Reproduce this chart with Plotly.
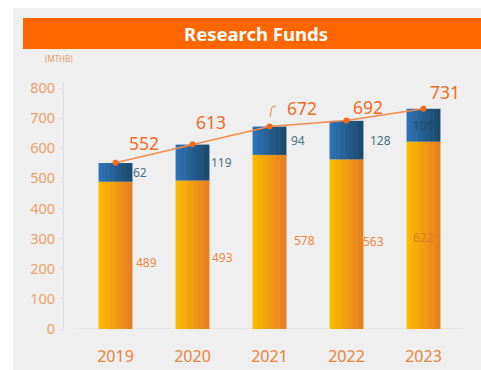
import plotly.graph_objects as go

# Research funds (million THB) by fiscal year
years = ["2019", "2020", "2021", "2022", "2023"]
base_funds = [489, 493, 578, 563, 622]
extra_funds = [62, 119, 94, 128, 109]
totals = [552, 613, 672, 692, 731]
y_ticks = [0, 100, 200, 300, 400, 500, 600, 700, 800]

W, H = 481, 370
ML, MR, MT, MB = 64, 19, 82, 41
PW, PH = W - ML - MR, H - MT - MB

def px_x(p):
    return (p - ML) / PW

def px_y(p):
    return 1 - (p - MT) / PH

def lerp(c1, c2, t):
    a = [int(c1[i:i + 2], 16) for i in (1, 3, 5)]
    b = [int(c2[i:i + 2], 16) for i in (1, 3, 5)]
    return "rgb(%d,%d,%d)" % tuple(round(a[k] + (b[k] - a[k]) * t) for k in range(3))

BAR_W = 0.44
N = 14
fig = go.Figure()

# bars drawn as thin vertical slices to get a left-to-right gradient
for i in range(N):
    t = i / (N - 1)
    off = -BAR_W / 2 + i * BAR_W / N
    sw = BAR_W / N * (1.0 if i == N - 1 else 1.25)
    fig.add_trace(go.Bar(x=years, y=base_funds, base=0, offset=off, width=sw,
                         marker=dict(color=lerp("#fbba00", "#e87e22", t), line=dict(width=0)),
                         showlegend=False, hoverinfo="skip"))
    fig.add_trace(go.Bar(x=years, y=extra_funds, base=base_funds, offset=off, width=sw,
                         marker=dict(color=lerp("#2e72b5", "#1b4a6c", t), line=dict(width=0)),
                         showlegend=False, hoverinfo="skip"))

# total trend line
fig.add_trace(go.Scatter(x=years, y=totals, mode="lines+markers",
                         line=dict(color="#f58a4b", width=1.5),
                         marker=dict(color="#f26b1d", size=6),
                         showlegend=False, hoverinfo="skip"))

# label offsets (pixels)
total_dx = [28, 18, 32, 21, 21]
total_dy = [20, 22, 19, 14, 17]
extra_dx = [24, 29, 28, 34, 0]
base_dx = [31, 30, 35, 27, 0]
base_dy = [-7, -3, 1, 3, -2]

annotations = []
font_family = "Noto Sans"
for k, yr in enumerate(years):
    inside = k == len(years) - 1
    annotations.append(dict(x=k, y=totals[k], text=str(totals[k]), showarrow=False,
                            xanchor="center", yanchor="middle",
                            xshift=total_dx[k], yshift=total_dy[k],
                            font=dict(size=17.5, color="#f26b1d", family=font_family)))
    annotations.append(dict(x=k, y=base_funds[k] + extra_funds[k] / 2, text=str(extra_funds[k]),
                            showarrow=False, xanchor="center", yanchor="middle",
                            xshift=extra_dx[k],
                            font=dict(size=12, color="#1f4a66" if inside else "#4b7183",
                                      family=font_family)))
    annotations.append(dict(x=k, y=base_funds[k] / 2, text=str(base_funds[k]),
                            showarrow=False, xanchor="center", yanchor="middle",
                            xshift=base_dx[k], yshift=base_dy[k],
                            font=dict(size=12, color="#dd7a22" if inside else "#ea8a44",
                                      family=font_family)))

annotations.append(dict(xref="paper", yref="paper", x=px_x(256), y=px_y(33),
                        xanchor="center", yanchor="middle",
                        text="<b>Research Funds</b>", showarrow=False,
                        font=dict(size=18.5, color="white", family=font_family)))
annotations.append(dict(xref="paper", yref="paper", x=px_x(59), y=px_y(59),
                        xanchor="center", yanchor="middle",
                        text="(MTHB)", showarrow=False,
                        font=dict(size=8, color="#e39a6a", family=font_family)))

shapes = [
    # light grey panel
    dict(type="rect", xref="paper", yref="paper", x0=px_x(13), x1=px_x(481),
         y0=px_y(370), y1=px_y(8), fillcolor="#efefef", line=dict(width=0), layer="below"),
    # title banner
    dict(type="rect", xref="paper", yref="paper", x0=px_x(23), x1=px_x(481),
         y0=px_y(49), y1=px_y(18), fillcolor="#ff6600", line=dict(width=0), layer="below"),
    # baseline
    dict(type="line", xref="x", yref="y", x0=-0.5, x1=4.5, y0=0, y1=0,
         line=dict(color="#dcdcdc", width=1), layer="below"),
    # small leader beside the 2021 total
    dict(type="path", xref="paper", yref="paper",
         path="M %f %f L %f %f L %f %f" % (px_x(270), px_y(117), px_x(272), px_y(107), px_x(276), px_y(106)),
         line=dict(color="#f58a4b", width=1)),
]

fig.update_layout(
    width=W, height=H,
    margin=dict(l=ML, r=MR, t=MT, b=MB),
    paper_bgcolor="white", plot_bgcolor="rgba(0,0,0,0)",
    barmode="overlay",
    annotations=annotations, shapes=shapes,
    font=dict(family=font_family),
    xaxis=dict(type="category", range=[-0.5 - 13 / 77, 4.5], showgrid=False, zeroline=False,
               showline=False, automargin=False,
               ticks="", ticklabelstandoff=16,
               tickfont=dict(size=16, color="#e8843c")),
    yaxis=dict(range=[0, 820], tickvals=y_ticks, showgrid=False, zeroline=False,
               automargin=False,
               showline=True, linecolor="#dedede", linewidth=1,
               ticks="outside", ticklen=3, tickcolor="#dedede", ticklabelstandoff=2,
               tickfont=dict(size=14.5, color="#efa168")),
)

fig.write_html("out.html")
